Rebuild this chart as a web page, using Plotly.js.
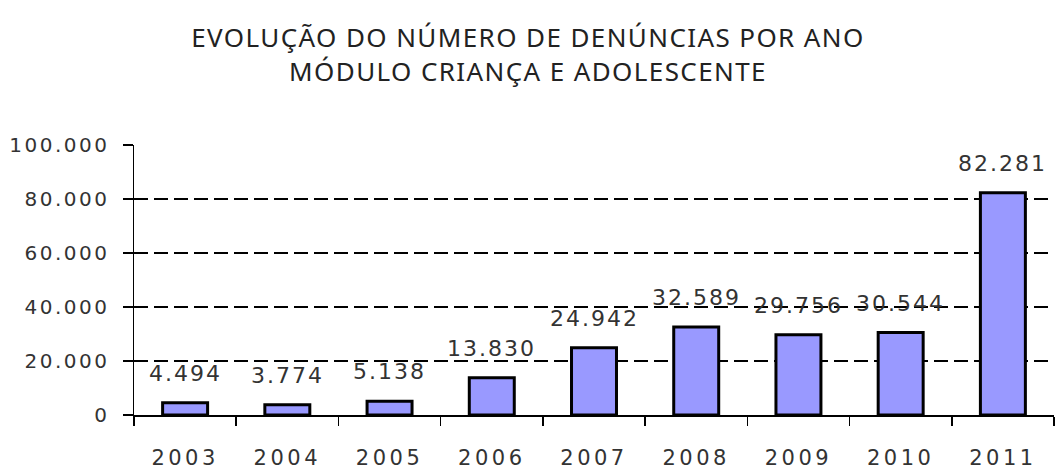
<!DOCTYPE html>
<html>
<head>
<meta charset="utf-8">
<script src="https://cdn.plot.ly/plotly-3.0.1.min.js"></script>
<style>
html,body{margin:0;padding:0;background:#fff;}
#chart{width:1056px;height:469px;}
#chart .gtitle{letter-spacing:1.4px;}
#chart .ytick text{letter-spacing:2.5px;}
#chart .xtick text{letter-spacing:3.5px;}
#chart .annotation-text{letter-spacing:2px;}
</style>
</head>
<body>
<div id="chart"></div>
<script>
const years = ['2003','2004','2005','2006','2007','2008','2009','2010','2011'];
const denuncias = [4494, 3774, 5138, 13830, 24942, 32589, 29756, 30544, 82281];
const titleLines = ['EVOLUÇÃO DO NÚMERO DE DENÚNCIAS POR ANO', 'MÓDULO CRIANÇA E ADOLESCENTE'];

function fmt(v){ return String(v).replace(/\B(?=(\d{3})+(?!\d))/g, '.'); }

const trace = {
  type: 'bar',
  x: years,
  y: denuncias,
  width: 0.44,
  marker: {color: '#9999FF', line: {color: '#000000', width: 3}},
  hoverinfo: 'x+y'
};

const annotations = years.map((yr, i) => ({
  x: i, y: denuncias[i], xref: 'x', yref: 'y',
  text: fmt(denuncias[i]), showarrow: false,
  yanchor: 'bottom', yshift: 15,
  font: {family: 'DejaVu Sans', size: 22, color: '#333333'}
}));

const layout = {
  width: 1056, height: 469,
  margin: {l: 134, r: 2, t: 145, b: 54},
  paper_bgcolor: '#ffffff', plot_bgcolor: '#ffffff',
  separators: ',.',
  title: {
    text: titleLines.join('<br>'),
    x: 0.5, xanchor: 'center', yref: 'container', y: 0.9, yanchor: 'top',
    font: {family: 'Noto Sans', size: 26, color: '#222222'}
  },
  showlegend: false,
  xaxis: {
    type: 'category',
    categoryorder: 'array', categoryarray: years,
    range: [-0.5, 8.5], autorange: false,
    tickson: 'boundaries',
    ticks: 'outside', ticklen: 9, tickwidth: 1.5, tickcolor: '#000',
    showline: true, linecolor: '#000', linewidth: 1.5,
    showgrid: false, zeroline: false,
    ticklabelstandoff: 23,
    tickfont: {family: 'DejaVu Sans', size: 21, color: '#333333'}
  },
  yaxis: {
    range: [0, 100000], autorange: false,
    tickvals: [0, 20000, 40000, 60000, 80000, 100000],
    tickformat: ',d',
    ticks: 'outside', ticklen: 10, tickwidth: 1.5, tickcolor: '#000',
    showline: true, linecolor: '#000', linewidth: 1.5,
    showgrid: true, gridcolor: '#000', gridwidth: 1.3, griddash: '14px,6px',
    zeroline: false,
    ticklabelstandoff: 9,
    tickfont: {family: 'DejaVu Sans', size: 20, color: '#333333'}
  },
  annotations: annotations
};

Plotly.newPlot('chart', [trace], layout, {displayModeBar: false, staticPlot: true});
</script>
</body>
</html>
